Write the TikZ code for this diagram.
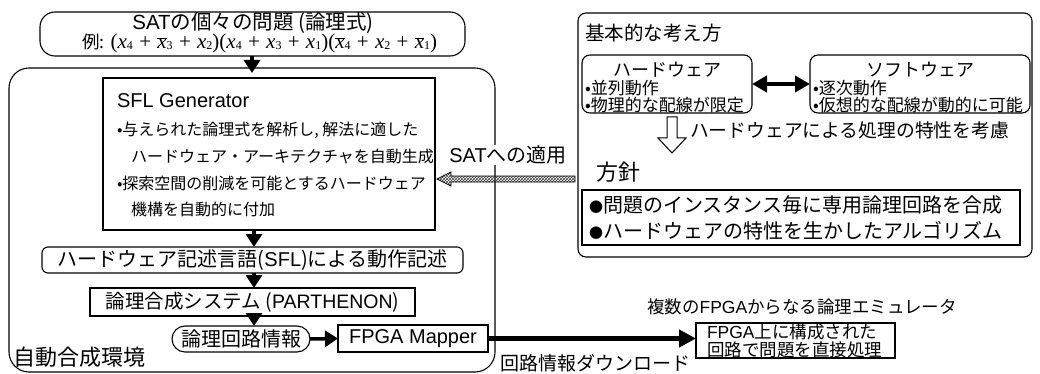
\documentclass[tikz,border=0pt]{standalone}
\usepackage{fontspec}
\setmainfont{Noto Sans CJK JP}
\newfontfamily\lat{Liberation Sans}
\newfontfamily\ser{Liberation Serif}
\usetikzlibrary{arrows.meta,calc,patterns}
\newcommand\fz[1]{\fontsize{#1}{#1}\selectfont}
\newcommand\xx[1]{{\ser\itshape x}\raisebox{-1pt}{\ser\fz{12}#1}}
\newcommand\xb[1]{$\overline{\hbox{\ser\itshape x}}$\raisebox{-1pt}{\ser\fz{12}#1}}
\newcommand\pl{\hspace{0.3em}{\ser +}\hspace{0.3em}}
\newcommand\bul{{\fz{14}●}}
\begin{document}
\begin{tikzpicture}[x=1pt,y=-1pt,
  frame/.style={draw,line width=1.1pt,inner sep=0pt,outer sep=0pt,anchor=north west},
  txt/.style={inner sep=0pt,outer sep=0pt},
  arr/.style={line width=3.5pt,-{Triangle[width=16pt,length=13pt]}},
]
\useasboundingbox (0,0) rectangle (1040,374);
% ---------- left: automatic synthesis environment
\node[frame,rounded corners=15pt,minimum width=425pt,minimum height=44pt] (top) at (40,12) {};
\node[txt,font=\fz{20.5}] (t1) at (253,22.5) {{\lat SAT}の個々の問題 (論理式)};
\node[txt,font=\fz{21},anchor=base west] (t2) at (82,49) {{\fz{17.5}例:} {\ser(}\xx4\pl\xb3\pl\xx2{\ser)(}\xx4\pl\xx3\pl\xx1{\ser)(}\xb4\pl\xx2\pl\xb1{\ser)}};

\node[frame,rounded corners=20pt,minimum width=486pt,minimum height=304pt] (env) at (9,68) {};
\node[txt,anchor=west,font=\fz{22}] (envlbl) at (13,357) {自動合成環境};

\node[frame,minimum width=332pt,minimum height=152pt] (sfl) at (103,78) {};
\node[txt,anchor=west,font=\lat\fz{20}] (sflT) at (117,101) {SFL Generator};
\node[txt,anchor=west,font=\fz{16}] (s1) at (117,130) {•与えられた論理式を解析し, 解法に適した};
\node[txt,anchor=west,font=\fz{16}] (s2) at (131,156) {ハードウェア・アーキテクチャを自動生成};
\node[txt,anchor=west,font=\fz{16}] (s3) at (117,183) {•探索空間の削減を可能とするハードウェア};
\node[txt,anchor=west,font=\fz{16}] (s4) at (131,209) {機構を自動的に付加};

\node[frame,rounded corners=6pt,minimum width=421pt,minimum height=26pt,font=\fz{20}] (hwd) at (42,247) {ハードウェア記述言語({\lat SFL})による動作記述};
\node[frame,minimum width=325pt,minimum height=28pt,font=\fz{19.5}] (lsys) at (90,288) {論理合成システム ({\lat PARTHENON})};
\node[frame,rounded corners=13pt,minimum width=138pt,minimum height=26pt,font=\fz{20}] (lci) at (172,326) {論理回路情報};
\node[frame,minimum width=150pt,minimum height=27pt,font=\lat\fz{20}] (fm) at (338,325) {FPGA Mapper};

\draw[arr] (top.south -| 252,0) -- ($(sfl.north -| 252,0)+(0,-5)$);
\draw[arr] (sfl.south -| 254,0) -- (hwd.north -| 254,0);
\draw[arr] (hwd.south -| 254,0) -- (lsys.north -| 254,0);
\draw[arr] (lsys.south -| 254,0) -- (lci.north -| 254,0);
\draw[arr] (lci.east) -- (fm.east -| fm.west);

% ---------- emulator
\node[frame,minimum width=199pt,minimum height=35pt] (fb) at (696,323) {};
\node[txt,anchor=west,font=\fz{17.5}] (fb1) at (707,332) {{\lat FPGA}上に構成された};
\node[txt,anchor=west,font=\fz{17.5}] (fb2) at (707,350) {回路で問題を直接処理};
\node[txt,font=\fz{17.5}] (emu) at (802,307) {複数の{\lat FPGA}からなる論理エミュレータ};
\draw[line width=5pt,-{Triangle[width=17pt,length=17pt]}] (fm.east) -- (fm.east -| fb.west);
\node[txt,font=\fz{19}] (dl) at (595,363) {回路情報ダウンロード};

% ---------- right panel
\node[frame,rounded corners=8pt,minimum width=454pt,minimum height=244pt] (rp) at (578,13) {};
\node[txt,anchor=west,font=\fz{19.5}] (rpT) at (585,33) {基本的な考え方};
\node[frame,rounded corners=8pt,minimum width=170pt,minimum height=58pt] (hw) at (582,55) {};
\node[frame,rounded corners=8pt,minimum width=220pt,minimum height=58pt] (sw) at (810,55) {};
\node[txt,font=\fz{18}] (hwT) at (667,70) {ハードウェア};
\node[txt,anchor=west,font=\fz{17}] (hw1) at (585,88) {•並列動作};
\node[txt,anchor=west,font=\fz{17}] (hw2) at (585,105) {•物理的な配線が限定};
\node[txt,font=\fz{18}] (swT) at (920,70) {ソフトウェア};
\node[txt,anchor=west,font=\fz{17}] (sw1) at (813,88) {•逐次動作};
\node[txt,anchor=west,font=\fz{17}] (sw2) at (813,105) {•仮想的な配線が動的に可能};
\draw[line width=4pt,{Triangle[width=16pt,length=15pt]}-{Triangle[width=16pt,length=15pt]}] (hw.east) -- (sw.west);

\coordinate (ha) at (672,117);
\draw[line width=1pt,fill=white] ($(ha)+(-5,0)$) -- ($(ha)+(-5,21)$) -- ($(ha)+(-14,21)$) -- ($(ha)+(0,36)$) -- ($(ha)+(14,21)$) -- ($(ha)+(5,21)$) -- ($(ha)+(5,0)$) -- cycle;
\node[txt,anchor=west,font=\fz{18.8}] (cons) at (690,130) {ハードウェアによる処理の特性を考慮};
\node[txt,anchor=west,font=\fz{22}] (hs) at (596,172) {方針};
\node[frame,minimum width=438pt,minimum height=55pt] (pol) at (582,190) {};
\node[txt,anchor=west,font=\fz{20}] (p1) at (589,205) {\bul 問題のインスタンス毎に専用論理回路を合成};
\node[txt,anchor=west,font=\fz{20}] (p2) at (589,231) {\bul ハードウェアの特性を生かしたアルゴリズム};

% ---------- SAT application arrow
\node[txt,fill=white,inner sep=1pt,font=\fz{20}] (sat) at (508,155) {{\lat SAT}への適用};
\coordinate (hatS) at (575,179);
\coordinate (tip) at (sfl.east |- hatS);
\path[pattern=crosshatch,pattern color=black!75,draw,line width=0.8pt] ($(hatS)+(0,-3)$) -- ($(tip)+(16,-3)$) -- ($(tip)+(16,-7)$) -- ($(tip)+(2,0)$) -- ($(tip)+(16,7)$) -- ($(tip)+(16,3)$) -- ($(hatS)+(0,3)$) -- cycle;
\end{tikzpicture}
\end{document}
